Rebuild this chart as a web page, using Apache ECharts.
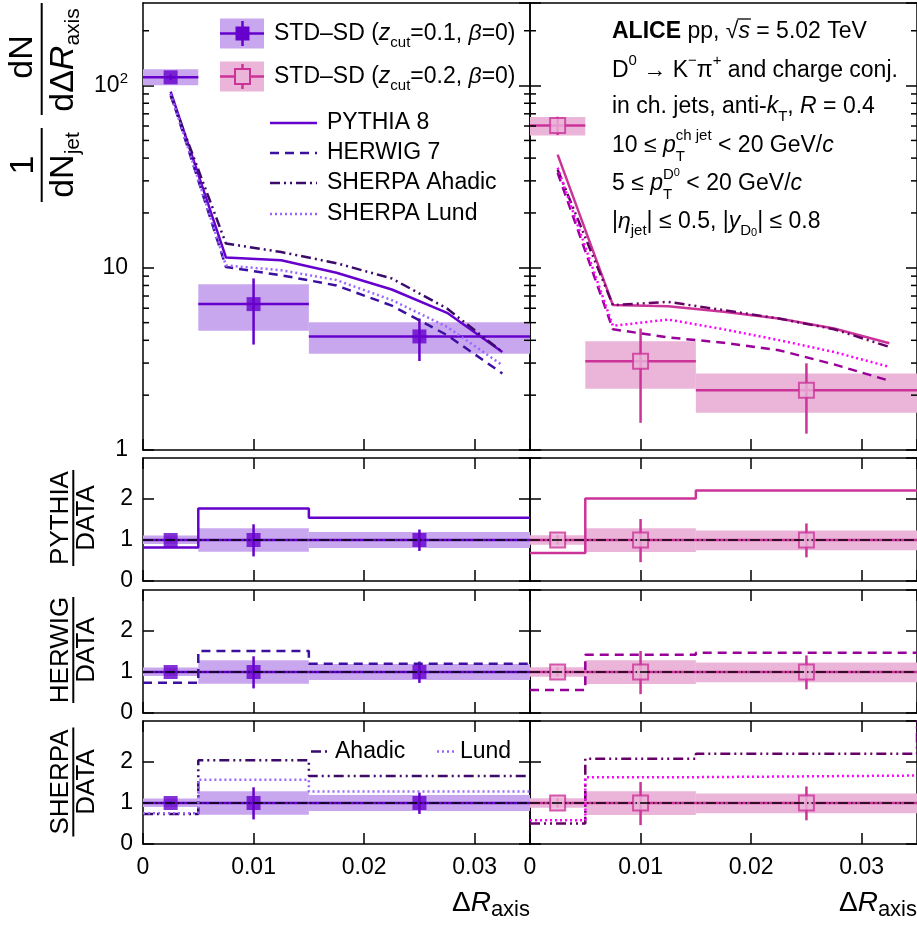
<!DOCTYPE html>
<html><head><meta charset="utf-8">
<script src="https://cdn.jsdelivr.net/npm/echarts@6/dist/echarts.min.js"></script>
<style>html,body{margin:0;padding:0;background:#fff}#c{width:917px;height:931px}</style>
</head><body><div id="c"></div>
<script>
const FONT = '"Liberation Sans", Arial, Helvetica, sans-serif';

// ---- bins of the measurement ----
const binLo = [0, 0.005, 0.015];
const binHi = [0.005, 0.015, 0.035];
const binMid = [0.0025, 0.01, 0.025];

// ---- data, STD-SD zcut=0.1 ----
const val01 = [111, 6.32, 4.20];
const statLo01 = [107, 3.79, 3.08];
const statHi01 = [115, 8.74, 5.27];
const sysLo01 = [100.4, 4.51, 3.37];
const sysHi01 = [123, 8.13, 5.03];

// ---- data, STD-SD zcut=0.2 ----
const val02 = [60.3, 3.07, 2.13];
const statLo02 = [53.5, 1.41, 1.23];
const statHi02 = [67.5, 4.64, 2.99];
const sysLo02 = [53.3, 2.17, 1.60];
const sysHi02 = [67.3, 3.95, 2.63];

// ---- MC predictions (top panels) ----
const mcX = [0.0025, 0.0075, 0.0125, 0.0175, 0.0225, 0.0275, 0.0325];
const pythia01 = [92.7, 11.4, 11.0, 9.4, 7.6, 5.66, 3.45];
const herwig01 = [90, 10.1, 9.1, 8.0, 6.2, 4.27, 2.63];
const ahadic01 = [88, 13.6, 12.2, 10.6, 8.74, 5.98, 3.45];
const lund01 = [90, 10.3, 9.7, 8.56, 6.65, 4.74, 2.92];
const pythia02 = [41.8, 6.24, 6.16, 5.73, 5.27, 4.64, 3.85];
const herwig02 = [33.2, 4.6, 4.15, 3.88, 3.53, 2.95, 2.40];
const ahadic02 = [34.5, 6.24, 6.5, 5.86, 5.27, 4.6, 3.68];
const lund02 = [35.4, 4.8, 5.20, 4.6, 4.01, 3.45, 2.86];

// ---- MC / DATA ratios per data bin ----
const pythiaR01 = [0.82, 1.77, 1.54];
const herwigR01 = [0.74, 1.51, 1.20];
const ahadicR01 = [0.73, 2.04, 1.66];
const lundR01 = [0.75, 1.57, 1.28];
const pythiaR02 = [0.68, 2.01, 2.21];
const herwigR02 = [0.56, 1.42, 1.47];
const ahadicR02 = [0.50, 2.08, 2.20, 3.3];
const lundR02 = [0.58, 1.63, 1.67];

// ---- tick labels ----
const xTickLabels = ['0', '0.01', '0.02', '0.03'];
const yLogLabels = ['1', '10', '{a|10}{s|2}'];
const yLogMinor = [2, 3, 4, 5, 6, 7, 8, 9, 20, 30, 40, 50, 60, 70, 80, 90, 200];
const ratioLabels = ['0', '1', '2'];

// ---- colours / styles ----
const C01 = '#6600CC', FILL01 = '#C8A7EE', HER01 = '#3D0FA0', AHA01 = '#3B0A6B', LUND01 = '#9966FF';
const C02 = '#CC3399', FILL02 = '#EBB5DA', HER02 = '#990099', AHA02 = '#660066', LUND02 = '#FF00FF';
const DASH = [9, 6], DADODO = [10, 4, 2, 4, 2, 4], DOT = [2, 3], REF = [10, 3, 1.5, 3, 1.5, 3];
const XMAX = 0.035;

const grids = [
  {left: 143, top: 3, width: 387, height: 447},
  {left: 530, top: 3, width: 387, height: 447},
  {left: 143, top: 458, width: 387, height: 123},
  {left: 530, top: 458, width: 387, height: 123},
  {left: 143, top: 590, width: 387, height: 123},
  {left: 530, top: 590, width: 387, height: 123},
  {left: 143, top: 721, width: 387, height: 123},
  {left: 530, top: 721, width: 387, height: 123}
];

const AX = {color: '#000', width: 1.5};
const xAxes = [], yAxes = [];
for (let g = 0; g < 8; g++) {
  const row = Math.floor(g / 2), col = g % 2;
  const isTop = row === 0, isBottom = row === 3, isLeft = col === 0;
  const xc = {gridIndex: g, type: 'value', min: 0, max: XMAX, interval: 0.01,
    splitLine: {show: false}, axisLine: {onZero: false, lineStyle: AX}};
  xAxes.push(Object.assign({}, xc, {position: 'bottom',
    axisTick: {inside: true, length: 11, lineStyle: AX},
    axisLabel: {show: isBottom, showMaxLabel: false, margin: 12, fontSize: 23, fontFamily: FONT, color: '#000',
      formatter: v => { const k = Math.round(v * 100); return (Math.abs(v * 100 - k) < 1e-6 && xTickLabels[k] !== undefined) ? xTickLabels[k] : ''; }}}));
  xAxes.push(Object.assign({}, xc, {position: 'top',
    axisTick: {show: !isTop, inside: true, length: 11, lineStyle: AX},
    axisLabel: {show: false}}));
  const yc = isTop ? {type: 'log', logBase: 10, min: 1, max: 284} : {type: 'value', min: 0, max: 3, interval: 1};
  const lab = isTop
    ? {show: isLeft, showMaxLabel: false, margin: 15, fontSize: 23, fontFamily: FONT, color: '#000',
       formatter: v => { const e = Math.round(Math.log10(v)); return Math.abs(Math.log10(v) - e) < 1e-6 && yLogLabels[e] !== undefined ? yLogLabels[e] : ''; },
       rich: {a: {fontSize: 23, fontFamily: FONT, color: '#000', lineHeight: 28},
              s: {fontSize: 15, fontFamily: FONT, color: '#000', lineHeight: 12, verticalAlign: 'top'}}}
    : {show: isLeft, showMaxLabel: false, margin: 10, fontSize: 23, fontFamily: FONT, color: '#000',
       formatter: v => ratioLabels[Math.round(v)] !== undefined ? ratioLabels[Math.round(v)] : ''};
  yAxes.push(Object.assign({}, yc, {gridIndex: g, position: 'left', splitLine: {show: false},
    axisLine: {onZero: false, lineStyle: AX}, axisTick: {inside: true, length: 11, lineStyle: AX}, axisLabel: lab}));
  yAxes.push(Object.assign({}, yc, {gridIndex: g, position: 'right', splitLine: {show: false},
    axisLine: {onZero: false, lineStyle: AX}, axisTick: {inside: true, length: 11, lineStyle: AX}, axisLabel: {show: false}}));
}

const series = [];
function ax(g) { return {xAxisIndex: 2 * g, yAxisIndex: 2 * g}; }

function addData(g, val, sLo, sHi, stLo, stHi, color, fill, open) {
  series.push(Object.assign(ax(g), {type: 'custom', z: 2, silent: true, clip: true,
    data: binLo.map((x, i) => [x, binHi[i], sLo[i], sHi[i]]),
    renderItem: (p, api) => {
      const a = api.coord([api.value(0), api.value(3)]), b = api.coord([api.value(1), api.value(2)]);
      return {type: 'rect', shape: {x: a[0], y: a[1], width: b[0] - a[0], height: b[1] - a[1]}, style: {fill: fill}};
    }}));
  series.push(Object.assign(ax(g), {type: 'custom', z: 3, silent: true, clip: true,
    data: binLo.map((x, i) => [x, binHi[i], val[i], binMid[i], stLo[i], stHi[i]]),
    renderItem: (p, api) => {
      const l = api.coord([api.value(0), api.value(2)]), r = api.coord([api.value(1), api.value(2)]);
      const t = api.coord([api.value(3), api.value(5)]), b = api.coord([api.value(3), api.value(4)]);
      return {type: 'group', children: [
        {type: 'line', shape: {x1: l[0], y1: l[1], x2: r[0], y2: r[1]}, style: {stroke: color, lineWidth: 2.5}},
        {type: 'line', shape: {x1: t[0], y1: t[1], x2: b[0], y2: b[1]}, style: {stroke: color, lineWidth: 2.5}}
      ]};
    }}));
  series.push(Object.assign(ax(g), {type: 'scatter', z: 4, silent: true, symbol: 'rect',
    symbolSize: open ? 15 : 14,
    data: binMid.map((x, i) => [x, val[i]]),
    itemStyle: open ? {color: fill, borderColor: color, borderWidth: 2} : {color: color}}));
}
function addCurve(g, ys, color, type) {
  series.push(Object.assign(ax(g), {type: 'line', z: 5, silent: true, symbol: 'none',
    data: mcX.map((x, i) => [x, ys[i]]), lineStyle: {color: color, width: 2.5, type: type}}));
}
function addStep(g, r, color, type) {
  const pts = binLo.map((x, i) => [x, r[i]]);
  pts.push([XMAX, r[2]]);
  for (let k = 3; k < r.length; k++) pts.push([XMAX, r[k]]);
  series.push(Object.assign(ax(g), {type: 'line', z: 5, silent: true, symbol: 'none', step: 'end',
    data: pts, lineStyle: {color: color, width: 2.5, type: type}}));
}
function addRef(g) {
  series.push(Object.assign(ax(g), {type: 'line', z: 8, silent: true, symbol: 'none',
    data: [[0, 1], [XMAX, 1]], lineStyle: {color: '#000', width: 1.5, type: REF}}));
}
function addMinor(g) {
  series.push(Object.assign(ax(g), {type: 'custom', z: 10, silent: true,
    data: yLogMinor.map(v => [XMAX / 2, v]),
    renderItem: (p, api) => {
      const a = api.coord([0, api.value(1)]), b = api.coord([XMAX, api.value(1)]);
      return {type: 'group', children: [
        {type: 'line', shape: {x1: a[0], y1: a[1], x2: a[0] + 6, y2: a[1]}, style: {stroke: '#000', lineWidth: 1.5}},
        {type: 'line', shape: {x1: b[0] - 6, y1: b[1], x2: b[0], y2: b[1]}, style: {stroke: '#000', lineWidth: 1.5}}
      ]};
    }}));
}
const rel = (arr, v) => arr.map((x, i) => x / v[i]);

// top panels
addData(0, val01, sysLo01, sysHi01, statLo01, statHi01, C01, FILL01, false);
addCurve(0, pythia01, C01, 'solid');
addCurve(0, herwig01, HER01, DASH);
addCurve(0, ahadic01, AHA01, DADODO);
addCurve(0, lund01, LUND01, DOT);
addMinor(0);
addData(1, val02, sysLo02, sysHi02, statLo02, statHi02, C02, FILL02, true);
addCurve(1, pythia02, C02, 'solid');
addCurve(1, herwig02, HER02, DASH);
addCurve(1, ahadic02, AHA02, DADODO);
addCurve(1, lund02, LUND02, DOT);
addMinor(1);

// ratio panels
for (let row = 1; row <= 3; row++) {
  const gL = 2 * row, gR = 2 * row + 1;
  addData(gL, rel(val01, val01), rel(sysLo01, val01), rel(sysHi01, val01), rel(statLo01, val01), rel(statHi01, val01), C01, FILL01, false);
  addData(gR, rel(val02, val02), rel(sysLo02, val02), rel(sysHi02, val02), rel(statLo02, val02), rel(statHi02, val02), C02, FILL02, true);
}
addStep(2, pythiaR01, C01, 'solid');
addStep(3, pythiaR02, C02, 'solid');
addStep(4, herwigR01, HER01, DASH);
addStep(5, herwigR02, HER02, DASH);
addStep(6, ahadicR01, AHA01, DADODO);
addStep(6, lundR01, LUND01, DOT);
addStep(7, ahadicR02, AHA02, DADODO);
addStep(7, lundR02, LUND02, DOT);
for (let g = 2; g < 8; g++) addRef(g);

// ---- text helpers ----
const RICH = {
  i: {fontSize: 23, fontFamily: FONT, fontStyle: 'italic', lineHeight: 34, fill: '#000'},
  b: {fontSize: 23, fontFamily: FONT, fontWeight: 'bold', lineHeight: 34, fill: '#000'},
  sub: {fontSize: 15, fontFamily: FONT, lineHeight: 12, verticalAlign: 'bottom', fill: '#000'},
  subL: {fontSize: 15, fontFamily: FONT, lineHeight: 6, verticalAlign: 'bottom', fill: '#000'},
  sup: {fontSize: 15, fontFamily: FONT, lineHeight: 12, verticalAlign: 'top', fill: '#000'},
  subsup: {fontSize: 11, fontFamily: FONT, lineHeight: 26, verticalAlign: 'bottom', fill: '#000'},
  supsup: {fontSize: 11, fontFamily: FONT, lineHeight: 2, verticalAlign: 'top', fill: '#000'}
};
function T(x, y, text, extra) {
  return Object.assign({type: 'text', x: x, y: y, z: 100, silent: true,
    style: Object.assign({text: text, fontSize: 23, fontFamily: FONT, fill: '#000', lineHeight: 34,
      align: 'left', verticalAlign: 'middle', textAlign: 'left', textVerticalAlign: 'middle', rich: RICH}, extra || {})});
}
const mctx = document.createElement('canvas').getContext('2d');
function tw(s, size, pre) { mctx.font = (pre ? pre + ' ' : '') + size + 'px ' + FONT; return mctx.measureText(s).width; }
function L(x1, y1, x2, y2, color, w, dash) {
  return {type: 'line', z: 101, silent: true, shape: {x1, y1, x2, y2}, style: {stroke: color, lineWidth: w, lineDash: dash || null}};
}

const graphic = [];
// legend (data)
graphic.push({type: 'rect', z: 99, silent: true, shape: {x: 220, y: 18.5, width: 44, height: 30}, style: {fill: FILL01}});
graphic.push(L(220, 33.5, 264, 33.5, C01, 2.5));
graphic.push(L(242.5, 21, 242.5, 46, C01, 2.5));
graphic.push({type: 'rect', z: 102, silent: true, shape: {x: 235.5, y: 26.5, width: 14, height: 14}, style: {fill: C01}});
graphic.push({type: 'rect', z: 99, silent: true, shape: {x: 220, y: 61.5, width: 44, height: 30}, style: {fill: FILL02}});
graphic.push(L(220, 76.5, 264, 76.5, C02, 2.5));
graphic.push(L(242.5, 64, 242.5, 89, C02, 2.5));
graphic.push({type: 'rect', z: 102, silent: true, shape: {x: 235, y: 69, width: 15, height: 15}, style: {fill: FILL02, stroke: C02, lineWidth: 2}});
graphic.push(T(274, 33.5, 'STD–SD ({i|z}{subL|cut}=0.1, {i|β}=0)'));
graphic.push(T(274, 76.5, 'STD–SD ({i|z}{subL|cut}=0.2, {i|β}=0)'));
// legend (MC)
graphic.push(L(270, 123, 317, 123, C01, 2.5));
graphic.push(L(270, 153, 317, 153, HER01, 2.5, DASH));
graphic.push(L(270, 183, 317, 183, AHA01, 2.5, DADODO));
graphic.push(L(270, 214, 317, 214, LUND01, 2.5, DOT));
graphic.push(T(327, 122.5, 'PYTHIA 8'));
graphic.push(T(327, 153, 'HERWIG 7'));
graphic.push(T(327, 183, 'SHERPA Ahadic'));
graphic.push(T(327, 214, 'SHERPA Lund'));
// SHERPA ratio legend
graphic.push(L(311, 751.5, 329, 751.5, AHA01, 2.5, DADODO));
graphic.push(T(335, 751.5, 'Ahadic'));
graphic.push(L(437, 751.5, 455, 751.5, LUND01, 2.5, DOT));
graphic.push(T(460, 751.5, 'Lund'));

// annotation
const AX0 = 612;
const lineY = [32, 70.7, 107, 145.7, 184, 221.7];
graphic.push(T(AX0, lineY[0], '{b|ALICE} pp, √{i|s} = 5.02 TeV'));
const s0 = AX0 + tw('ALICE', 23, 'bold') + tw(' pp, √', 23);
graphic.push(L(s0 - 1, lineY[0] - 13, s0 + tw('s', 23, 'italic') + 1, lineY[0] - 13, '#000', 1.3));
graphic.push(T(AX0, lineY[1], 'D{sup|0} → K{sup|−}π{sup|+} and charge conj.'));
graphic.push(T(AX0, lineY[2], 'in ch. jets, anti-{i|k}{sub|T}, {i|R} = 0.4'));
graphic.push(T(AX0, lineY[3], '10 ≤ {i|p}{sup|ch jet} < 20 GeV/{i|c}'));
graphic.push(T(AX0 + tw('10 ≤ ', 23) + tw('p', 23, 'italic'), lineY[3] + 11, 'T', {fontSize: 15, lineHeight: 15}));
graphic.push(T(AX0, lineY[4], '5 ≤ {i|p}{sup|D}{supsup|0} < 20 GeV/{i|c}'));
graphic.push(T(AX0 + tw('5 ≤ ', 23) + tw('p', 23, 'italic'), lineY[4] + 11, 'T', {fontSize: 15, lineHeight: 15}));
graphic.push(T(AX0, lineY[5], '|{i|η}{sub|jet}| ≤ 0.5, |{i|y}{sub|D}{subsup|0}| ≤ 0.8'));

// x axis titles
const XR = {m: {fontSize: 28, fontFamily: FONT, lineHeight: 36, fill: '#000'},
            mi: {fontSize: 28, fontFamily: FONT, fontStyle: 'italic', lineHeight: 36, fill: '#000'},
            s: {fontSize: 22, fontFamily: FONT, lineHeight: 8, verticalAlign: 'bottom', fill: '#000'}};
graphic.push(T(530, 903, '{m|Δ}{mi|R}{s|axis}', {align: 'right', textAlign: 'right', rich: XR, lineHeight: 36}));
graphic.push(T(917, 903, '{m|Δ}{mi|R}{s|axis}', {align: 'right', textAlign: 'right', rich: XR, lineHeight: 36}));

// y axis title of top panel (rotated fractions)
const YR = {i: {fontSize: 34, fontFamily: FONT, fontStyle: 'italic', lineHeight: 40, fill: '#000'},
            s: {fontSize: 21, fontFamily: FONT, lineHeight: 16, verticalAlign: 'bottom', fill: '#000'}};
function RT(x, y, text, size, rich) {
  return {type: 'text', x: x, y: y, silent: true, style: {text: text, fontSize: size, fontFamily: FONT, fill: '#000',
    lineHeight: 40, align: 'center', verticalAlign: 'middle', textAlign: 'center', textVerticalAlign: 'middle', rich: rich || {}}};
}
function RL(x1, x2) { return {type: 'line', silent: true, shape: {x1: x1, y1: 0, x2: x2, y2: 0}, style: {stroke: '#000', lineWidth: 2}}; }
graphic.push({type: 'group', x: 41.7, y: 210, rotation: Math.PI / 2, z: 100, children: [
  RT(153, -19, 'dN', 34),
  RL(95, 207),
  RT(150, 22, 'dΔ{i|R}{s|axis}', 34, YR),
  RT(45, -18, '1', 34),
  RL(8, 82),
  RT(45, 22, 'dN{s|jet}', 34, YR)
]});
// ratio titles
const ratioTitles = [['PYTHIA', 518, 96], ['HERWIG', 650, 106], ['SHERPA', 782, 109]];
ratioTitles.forEach(([name, cy, len]) => {
  graphic.push({type: 'group', x: 73.3, y: cy, rotation: Math.PI / 2, z: 100, children: [
    RT(0, -12.5, name, 26),
    RL(-len / 2, len / 2),
    RT(0, 13.5, 'DATA', 26)
  ]});
});

const chart = echarts.init(document.getElementById('c'), null, {renderer: 'canvas'});
chart.setOption({
  animation: false,
  backgroundColor: '#fff',
  grid: grids,
  xAxis: xAxes,
  yAxis: yAxes,
  series: series,
  graphic: {elements: graphic}
});
</script></body></html>
